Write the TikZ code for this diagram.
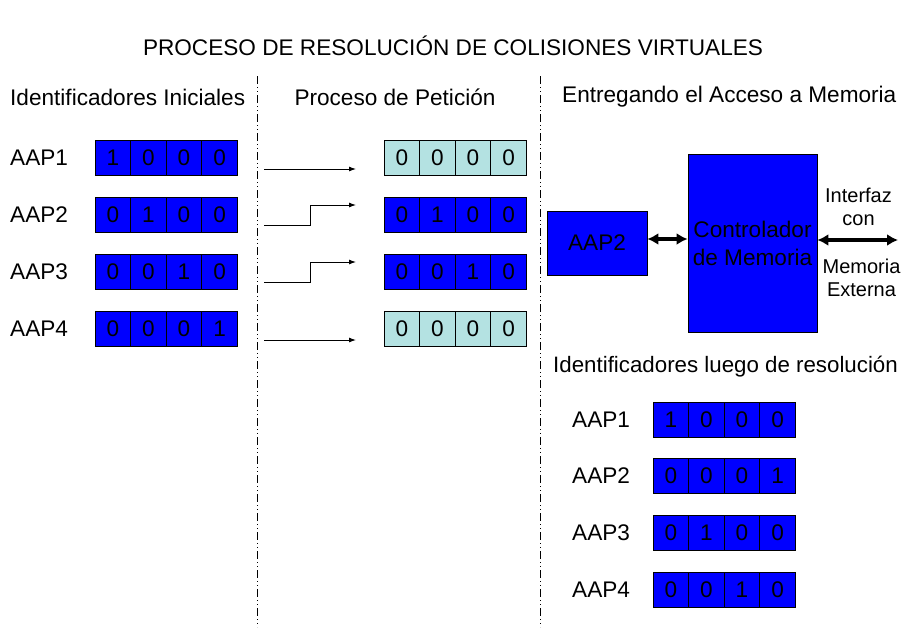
\documentclass[tikz,border=0pt]{standalone}
\usepackage{fontspec}
\setmainfont{Liberation Sans}
\usetikzlibrary{arrows.meta}

\definecolor{regblue}{RGB}{0,0,255}
\definecolor{regcyan}{RGB}{180,226,226}

% one 4-bit register: name, left x, centre y, fill colour, list of bits
\newcommand{\bitregister}[5]{%
  \foreach \b [count=\i] in {#5} {%
    \node[cell, fill=#4] (#1-\i) at ({#2+(\i-0.5)*35.6}, #3) {\b};
  }%
}

\tikzset{
  txt/.style={font=\fontsize{22.6}{28}\selectfont, inner sep=0pt},
  small/.style={font=\fontsize{20}{23}\selectfont, inner sep=0pt, align=center},
  cell/.style={draw=black, line width=0.8pt, minimum width=35.6pt, minimum height=35pt,
    inner sep=0pt, font=\fontsize{22.6}{26}\selectfont},
  divider/.style={line width=0.9pt, dash pattern=on 8pt off 3pt on 1pt off 3pt on 1pt off 3pt},
  reqarrow/.style={line width=0.9pt, -{Latex[length=7pt,width=5pt]}},
  busarrow/.style={line width=3.6pt, {Latex[length=11pt,width=12pt]}-{Latex[length=11pt,width=12pt]}},
  block/.style={draw=black, line width=0.8pt, fill=regblue, inner sep=0pt, align=center,
    font=\fontsize{22.6}{28}\selectfont}
}

\begin{document}
\begin{tikzpicture}[x=1pt, y=-1pt]
  \useasboundingbox (0,0) rectangle (904,627);

  % title and column headings
  \node[txt] (title) at (453,46) {PROCESO DE RESOLUCIÓN DE COLISIONES VIRTUALES};
  \node[txt, anchor=west] (hdrA) at (10,97) {Identificadores Iniciales};
  \node[txt] (hdrB) at (395,97) {Proceso de Petición};
  \node[txt, anchor=west] (hdrC) at (562,97) {Entregando el Acceso a Memoria};

  % column dividers
  \coordinate (divAtop) at (257,76);
  \coordinate (divAbot) at (257,627);
  \coordinate (divBtop) at (540,76);
  \coordinate (divBbot) at (540,627);
  \draw[divider] (divAtop) -- (divAbot);
  \draw[divider] (divBtop) -- (divBbot);

  % initial identifiers
  \foreach \n/\y in {1/158, 2/215, 3/272, 4/329}
    \node[txt, anchor=west] (inLab\n) at (10,\y) {AAP\n};
  \bitregister{inA}{95}{158}{regblue}{1,0,0,0}
  \bitregister{inB}{95}{215}{regblue}{0,1,0,0}
  \bitregister{inC}{95}{272}{regblue}{0,0,1,0}
  \bitregister{inD}{95}{329}{regblue}{0,0,0,1}

  % request lines
  \coordinate (r1s) at (264,169); \coordinate (r1e) at (356,169);
  \coordinate (r2s) at (264,225); \coordinate (r2k) at (310,205); \coordinate (r2e) at (356,205);
  \coordinate (r3s) at (264,282); \coordinate (r3k) at (310,262); \coordinate (r3e) at (356,262);
  \coordinate (r4s) at (264,340); \coordinate (r4e) at (356,340);
  \draw[reqarrow] (r1s) -- (r1e);
  \draw[reqarrow] (r2s) -| (r2k) -- (r2e);
  \draw[reqarrow] (r3s) -| (r3k) -- (r3e);
  \draw[reqarrow] (r4s) -- (r4e);

  % request registers
  \bitregister{rqA}{384}{158}{regcyan}{0,0,0,0}
  \bitregister{rqB}{384}{215}{regblue}{0,1,0,0}
  \bitregister{rqC}{384}{272}{regblue}{0,0,1,0}
  \bitregister{rqD}{384}{329}{regcyan}{0,0,0,0}

  % memory access
  \node[block, minimum width=100pt, minimum height=64pt] (aap) at (597,243) {AAP2};
  \node[block, minimum width=129pt, minimum height=178pt] (ctrl) at (752.5,243)
    {Controlador\\de Memoria};
  \draw[busarrow] ([yshift=4pt]aap.east) -- ([yshift=4pt]ctrl.west);
  \coordinate (ext) at (898,240);
  \draw[busarrow] ([yshift=3pt]ctrl.east) -- (ext);
  \node[small] (ifz) at (858.5,206.5) {Interfaz\\con};
  \node[small] (mem) at (861.5,277.5) {Memoria\\Externa};

  % identifiers after resolution
  \node[txt, anchor=west, font=\fontsize{22.3}{28}\selectfont] (hdrD) at (553,367)
    {Identificadores luego de resolución};
  \foreach \n/\y in {1/420, 2/476, 3/533, 4/590}
    \node[txt, anchor=west] (outLab\n) at (572,\y) {AAP\n};
  \bitregister{outA}{653}{420}{regblue}{1,0,0,0}
  \bitregister{outB}{653}{476}{regblue}{0,0,0,1}
  \bitregister{outC}{653}{533}{regblue}{0,1,0,0}
  \bitregister{outD}{653}{590}{regblue}{0,0,1,0}
\end{tikzpicture}
\end{document}
